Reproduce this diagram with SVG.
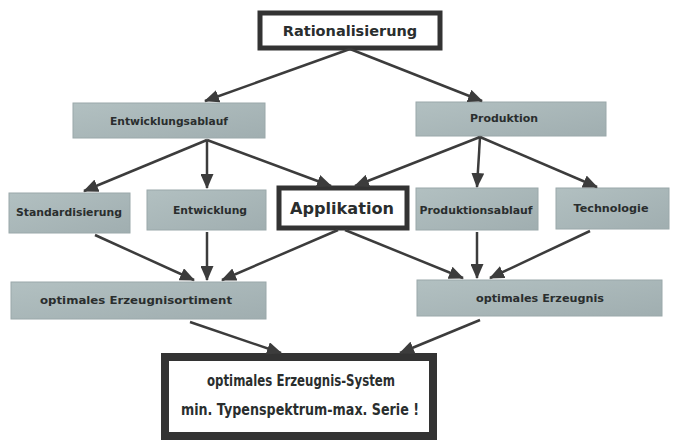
<svg xmlns="http://www.w3.org/2000/svg" width="674" height="440" viewBox="0 0 674 440">
<defs>
<linearGradient id="g" x1="0" y1="0" x2="1" y2="1">
<stop offset="0" stop-color="#b2c0c1"/>
<stop offset="1" stop-color="#a0aeb0"/>
</linearGradient>
<marker id="ah" markerUnits="userSpaceOnUse" markerWidth="15" markerHeight="13" refX="14" refY="6.5" orient="auto">
<path d="M0,0 L15,6.5 L0,13 Z" fill="#3c3c3c"/>
</marker>
</defs>
<style>
.gray{fill:url(#g);stroke:#9aa8aa;stroke-width:1}
.white{fill:#fff;stroke:#333;}
.t{font-family:"DejaVu Sans","Liberation Sans",sans-serif;font-weight:bold;fill:#2a2e2e;text-anchor:middle;dominant-baseline:central}
.s{font-size:10.5px}
.c line{stroke:#3c3c3c;stroke-width:2.5;marker-end:url(#ah)}
</style>
<rect width="674" height="440" fill="#fff"/>
<g id="rationalisierung">
<rect class="white" x="260" y="13" width="180" height="35" stroke-width="5"/>
<text class="t" x="350" y="31" font-size="14.5">Rationalisierung</text>
</g>
<g id="entwicklungsablauf">
<rect class="gray" x="73" y="103" width="192" height="35"/>
<text class="t s" x="169" y="121" textLength="118" lengthAdjust="spacingAndGlyphs">Entwicklungsablauf</text>
</g>
<g id="produktion">
<rect class="gray" x="416" y="102" width="190" height="34"/>
<text class="t s" x="504" y="118" textLength="68" lengthAdjust="spacingAndGlyphs">Produktion</text>
</g>
<g id="standardisierung">
<rect class="gray" x="9" y="193" width="121" height="40"/>
<text class="t s" x="69" y="212" textLength="106" lengthAdjust="spacingAndGlyphs">Standardisierung</text>
</g>
<g id="entwicklung">
<rect class="gray" x="147" y="190" width="119" height="40"/>
<text class="t s" x="210" y="210" textLength="74" lengthAdjust="spacingAndGlyphs">Entwicklung</text>
</g>
<g id="applikation">
<rect class="white" x="279" y="188" width="128" height="40" stroke-width="5"/>
<text class="t" x="342" y="208" font-size="16.5" textLength="104" lengthAdjust="spacingAndGlyphs">Applikation</text>
</g>
<g id="produktionsablauf">
<rect class="gray" x="416" y="188" width="122" height="42"/>
<text class="t s" x="476" y="210" textLength="113" lengthAdjust="spacingAndGlyphs">Produktionsablauf</text>
</g>
<g id="technologie">
<rect class="gray" x="556" y="188" width="113" height="41"/>
<text class="t s" x="611" y="208" textLength="75" lengthAdjust="spacingAndGlyphs">Technologie</text>
</g>
<g id="erzeugnisortiment">
<rect class="gray" x="11" y="282" width="255" height="37"/>
<text class="t s" x="136" y="300" textLength="192" lengthAdjust="spacingAndGlyphs">optimales Erzeugnisortiment</text>
</g>
<g id="erzeugnis">
<rect class="gray" x="417" y="280" width="245" height="36"/>
<text class="t s" x="540" y="298" textLength="128" lengthAdjust="spacingAndGlyphs">optimales Erzeugnis</text>
</g>
<g id="system">
<rect class="white" x="165" y="357" width="268" height="79" stroke-width="8"/>
<text class="t" x="301" y="381" font-size="15" textLength="188" lengthAdjust="spacingAndGlyphs">optimales Erzeugnis-System</text>
<text class="t" x="300" y="410" font-size="15" textLength="238" lengthAdjust="spacingAndGlyphs">min. Typenspektrum-max. Serie !</text>
</g>
<g id="connectors" class="c">
<line x1="350" y1="49" x2="205" y2="101"/>
<line x1="350" y1="49" x2="482" y2="101"/>
<line x1="207" y1="140" x2="84" y2="191"/>
<line x1="207" y1="140" x2="207" y2="188"/>
<line x1="207" y1="140" x2="331" y2="186"/>
<line x1="480" y1="137" x2="355" y2="186"/>
<line x1="480" y1="137" x2="477" y2="187"/>
<line x1="480" y1="137" x2="597" y2="187"/>
<line x1="95" y1="235" x2="194" y2="280"/>
<line x1="207" y1="232" x2="207" y2="280"/>
<line x1="338" y1="230" x2="222" y2="280"/>
<line x1="345" y1="230" x2="463" y2="278"/>
<line x1="477" y1="232" x2="477" y2="278"/>
<line x1="590" y1="231" x2="490" y2="278"/>
<line x1="190" y1="322" x2="281" y2="353"/>
<line x1="480" y1="320" x2="400" y2="353"/>
</g>
</svg>
